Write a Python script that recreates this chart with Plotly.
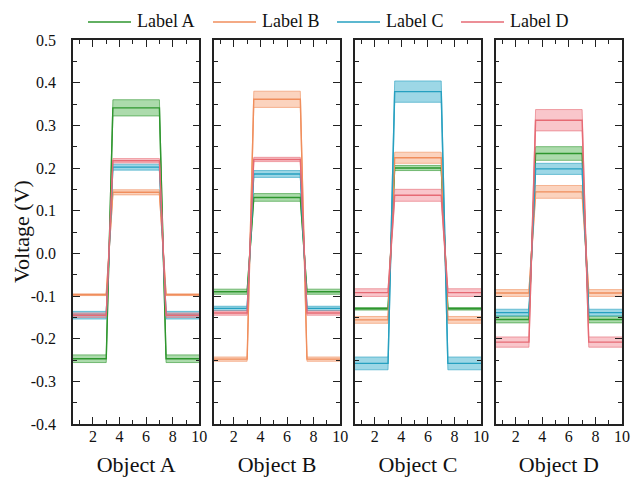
import plotly.graph_objects as go

# Step profile sample positions (pre-pulse, pulse plateau, post-pulse)
PROFILE_X = [0.5, 3.0, 3.5, 7.0, 7.5, 10.0]

OBJECTS = ["Object A", "Object B", "Object C", "Object D"]
SERIES = ["Label A", "Label B", "Label C", "Label D"]

# Baseline level and plateau level per object, with band half-widths
LOW_A = [-0.247, -0.090, -0.130, -0.155]
LOW_A_ERR = [0.009, 0.006, 0.003, 0.008]
HIGH_A = [0.341, 0.131, 0.200, 0.234]
HIGH_A_ERR = [0.019, 0.009, 0.006, 0.016]

LOW_B = [-0.097, -0.248, -0.156, -0.093]
LOW_B_ERR = [0.002, 0.005, 0.008, 0.008]
HIGH_B = [0.143, 0.361, 0.224, 0.144]
HIGH_B_ERR = [0.006, 0.019, 0.013, 0.015]

LOW_C = [-0.145, -0.129, -0.258, -0.139]
LOW_C_ERR = [0.009, 0.005, 0.015, 0.008]
HIGH_C = [0.202, 0.186, 0.379, 0.198]
HIGH_C_ERR = [0.007, 0.008, 0.025, 0.013]

LOW_D = [-0.145, -0.140, -0.092, -0.208]
LOW_D_ERR = [0.005, 0.005, 0.009, 0.012]
HIGH_D = [0.217, 0.220, 0.136, 0.312]
HIGH_D_ERR = [0.005, 0.005, 0.014, 0.025]

Y_TICKS = [-0.4, -0.3, -0.2, -0.1, 0.0, 0.1, 0.2, 0.3, 0.4, 0.5]
Y_TICK_TEXT = ["-0.4", "-0.3", "-0.2", "-0.1", "0.0", "0.1", "0.2", "0.3", "0.4", "0.5"]
X_TICKS = [2, 4, 6, 8, 10]
Y_TITLE = "Voltage (V)"

LINE_COLORS = ["rgb(46,150,46)", "rgb(240,142,92)", "rgb(38,160,192)", "rgb(230,106,116)"]
EDGE_COLORS = ["rgba(46,150,46,0.75)", "rgba(240,142,92,0.75)", "rgba(38,160,192,0.75)", "rgba(230,106,116,0.75)"]
FILL_COLORS = ["rgba(70,175,70,0.45)", "rgba(245,150,100,0.42)", "rgba(60,175,205,0.5)", "rgba(240,120,130,0.42)"]

series_data = [
    (LOW_A, LOW_A_ERR, HIGH_A, HIGH_A_ERR),
    (LOW_B, LOW_B_ERR, HIGH_B, HIGH_B_ERR),
    (LOW_C, LOW_C_ERR, HIGH_C, HIGH_C_ERR),
    (LOW_D, LOW_D_ERR, HIGH_D, HIGH_D_ERR),
]


def profile(low, high):
    return [low, low, high, high, low, low]


FONT = "Liberation Serif, Times New Roman, serif"

fig = go.Figure()

for p in range(4):
    xa = "x" if p == 0 else f"x{p + 1}"
    ya = "y" if p == 0 else f"y{p + 1}"
    for s, (low, low_err, high, high_err) in enumerate(series_data):
        centre = profile(low[p], high[p])
        lower = profile(low[p] - low_err[p], high[p] - high_err[p])
        upper = profile(low[p] + low_err[p], high[p] + high_err[p])
        fig.add_trace(go.Scatter(
            x=PROFILE_X, y=lower, xaxis=xa, yaxis=ya, mode="lines",
            line=dict(color=EDGE_COLORS[s], width=0.8),
            showlegend=False, hoverinfo="skip"))
        fig.add_trace(go.Scatter(
            x=PROFILE_X, y=upper, xaxis=xa, yaxis=ya, mode="lines",
            line=dict(color=EDGE_COLORS[s], width=0.8),
            fill="tonexty", fillcolor=FILL_COLORS[s],
            showlegend=False, hoverinfo="skip"))
        fig.add_trace(go.Scatter(
            x=PROFILE_X, y=centre, xaxis=xa, yaxis=ya, mode="lines",
            line=dict(color=LINE_COLORS[s], width=1.4),
            name=SERIES[s], showlegend=False))

# Panel geometry
L_MARGIN, R_MARGIN, T_MARGIN, B_MARGIN = 73, 9, 40, 53
W, H = 631, 477
plot_w = W - L_MARGIN - R_MARGIN
plot_h = H - T_MARGIN - B_MARGIN
panel_w = 126.3
gap = (plot_w - 4 * panel_w) / 3


def px_to_paper_x(px):
    return (px - L_MARGIN) / plot_w


def px_to_paper_y(py):
    return (H - B_MARGIN - py) / plot_h


axis_common = dict(
    showline=True, linecolor="#222", linewidth=1.5, mirror="allticks",
    ticks="inside", ticklen=7, tickwidth=1.3, tickcolor="#222",
    showgrid=False, zeroline=False, automargin=False,
    tickfont=dict(family=FONT, size=16, color="#111"),
)

layout = dict(
    width=W, height=H,
    margin=dict(l=L_MARGIN, r=R_MARGIN, t=T_MARGIN, b=B_MARGIN),
    paper_bgcolor="white", plot_bgcolor="white",
    font=dict(family=FONT, color="#111"),
    showlegend=False,
)

for p in range(4):
    x0 = p * (panel_w + gap) / plot_w
    x1 = (p * (panel_w + gap) + panel_w) / plot_w
    xkey = "xaxis" if p == 0 else f"xaxis{p + 1}"
    ykey = "yaxis" if p == 0 else f"yaxis{p + 1}"
    ya = "y" if p == 0 else f"y{p + 1}"
    xa = "x" if p == 0 else f"x{p + 1}"
    layout[xkey] = dict(
        axis_common, domain=[x0, min(x1, 1.0)], anchor=ya, range=[0.5, 10],
        tickvals=X_TICKS, ticktext=[str(v) for v in X_TICKS], ticklabelstandoff=-3,
        minor=dict(ticks="inside", ticklen=4, tickwidth=1.2, tickcolor="#222", dtick=2, tick0=1, showgrid=False),
        title=dict(text=OBJECTS[p], font=dict(family=FONT, size=22, color="#111"), standoff=17),
    )
    layout[ykey] = dict(
        axis_common, domain=[0, 1], anchor=xa, range=[-0.4, 0.5],
        tickvals=Y_TICKS, ticktext=Y_TICK_TEXT, showticklabels=(p == 0), ticklabelstandoff=12,
        minor=dict(ticks="inside", ticklen=4, tickwidth=1.2, tickcolor="#222", dtick=0.05, tick0=0, showgrid=False),
    )
    if p > 0:
        layout[ykey]["matches"] = "y"

fig.update_layout(**layout)

# Shared vertical axis title
fig.add_annotation(
    x=px_to_paper_x(21), y=0.5, xref="paper", yref="paper",
    xanchor="center", yanchor="middle", textangle=-90,
    text=Y_TITLE, showarrow=False,
    font=dict(family=FONT, size=22, color="#111"),
)

# Key above the panels: a line sample followed by the series name
KEY_LINE_START_PX = [88, 213, 337, 461]
KEY_LINE_LEN_PX = 43
KEY_Y_PX = 22
for s, name in enumerate(SERIES):
    xs = KEY_LINE_START_PX[s]
    fig.add_shape(
        type="line", xref="paper", yref="paper",
        x0=px_to_paper_x(xs), x1=px_to_paper_x(xs + KEY_LINE_LEN_PX),
        y0=px_to_paper_y(KEY_Y_PX), y1=px_to_paper_y(KEY_Y_PX),
        line=dict(color=LINE_COLORS[s], width=1.6),
    )
    fig.add_annotation(
        x=px_to_paper_x(xs + KEY_LINE_LEN_PX + 4), y=px_to_paper_y(KEY_Y_PX - 1),
        xref="paper", yref="paper", xanchor="left", yanchor="middle",
        text=name, showarrow=False,
        font=dict(family=FONT, size=18, color="#111"),
    )

fig.write_html("out.html")
